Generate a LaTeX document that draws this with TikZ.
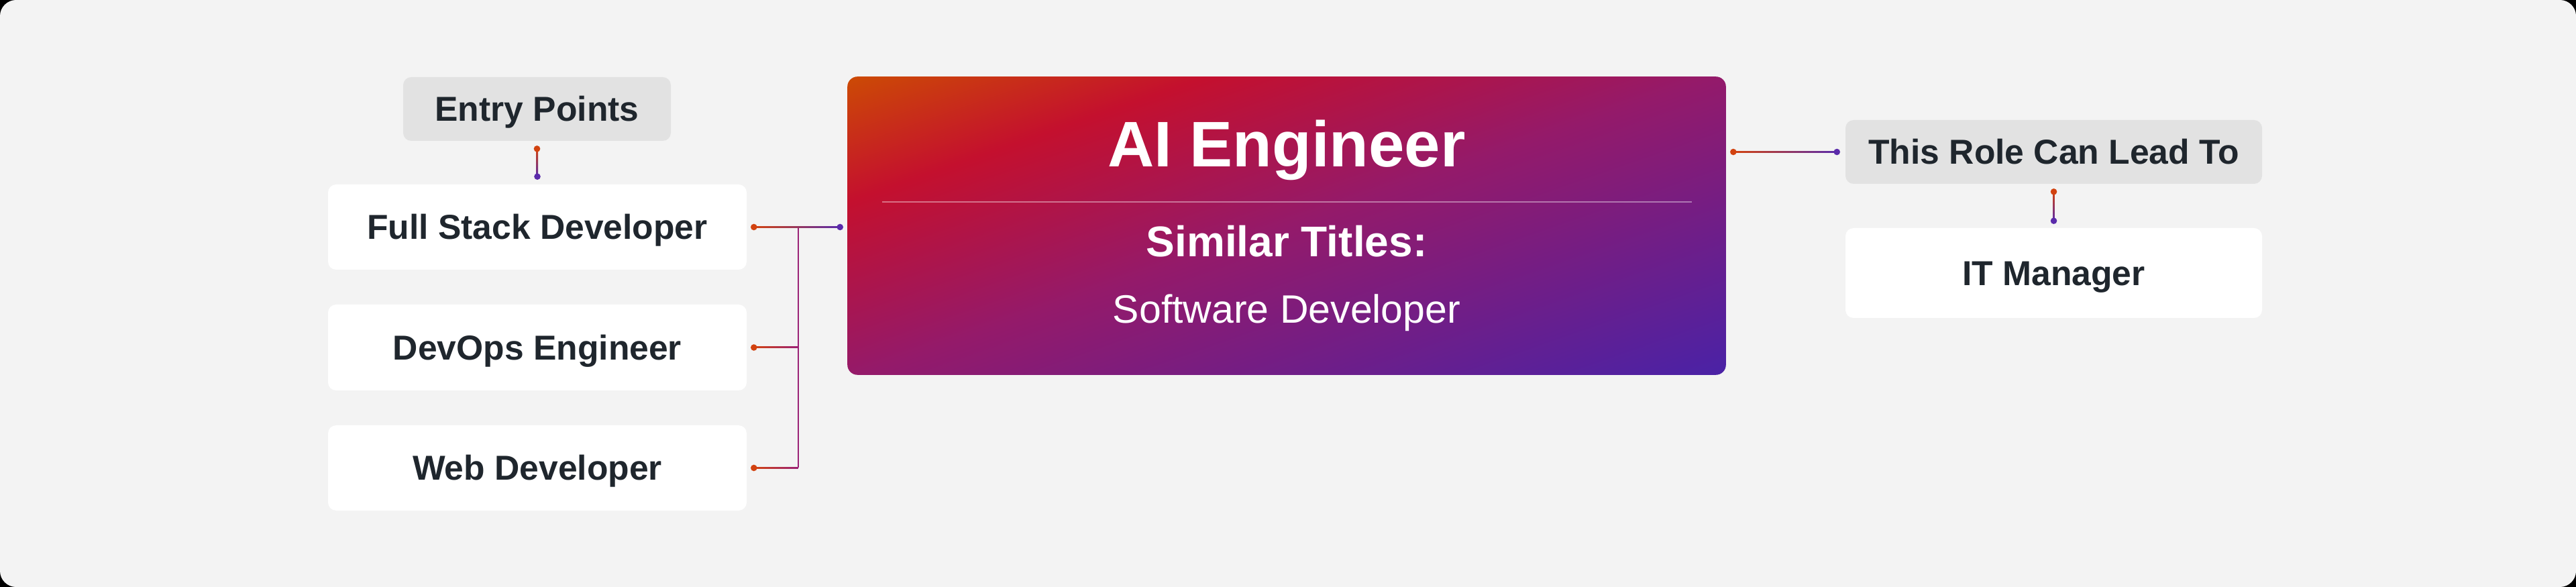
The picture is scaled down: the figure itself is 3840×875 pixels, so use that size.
\documentclass[tikz,border=0pt]{standalone}
\usepackage{fontspec}
\setmainfont{Liberation Sans}
\usetikzlibrary{calc}
\definecolor{bgc}{HTML}{F3F3F3}
\definecolor{grayc}{HTML}{E2E2E2}
\definecolor{txt}{HTML}{1F262D}
\definecolor{dotr}{HTML}{D2420F}
\definecolor{dotp}{HTML}{5A2BAA}
\definecolor{lmid}{HTML}{9A2176}
\definecolor{gOr}{HTML}{CC4A05}
\definecolor{gCr}{HTML}{C4102E}
\definecolor{gMg}{HTML}{941A6A}
\definecolor{gBl}{HTML}{4A22A6}
\pgfdeclarehorizontalshading{aigrad}{100bp}{color(0bp)=(gOr); color(25.9bp)=(gOr); color(35.8bp)=(gCr); color(50bp)=(gMg); color(74.1bp)=(gBl); color(100bp)=(gBl)}
\begin{document}
\begin{tikzpicture}[x=0.25pt,y=-0.25pt,
  box/.style={rectangle, rounded corners=3pt, fill=white, minimum width=156pt, minimum height=31.75pt, text=txt, font=\fontsize{12.9}{15}\selectfont\bfseries, text height=9.24pt, text depth=0pt, inner sep=0pt},
  graybox/.style={box, fill=grayc, minimum height=23.75pt},
  dotR/.style={fill=dotr},
  dotP/.style={fill=dotp},
  maintext/.style={anchor=base, text=white, inner sep=0pt}
]
\useasboundingbox (0,0) rectangle (3840,875);
\fill[black] (0,0) rectangle (3840,875);
\fill[bgc, rounded corners=6pt] (0,0) rectangle (3840,875);

% left column
\node[graybox, minimum width=99.75pt] (entry) at (800.5,162.5) {Entry Points};
\node[box] (fs) at (801,338.5) {Full Stack Developer};
\node[box, minimum height=32pt] (devops) at (801,518) {DevOps Engineer};
\node[box] (web) at (801,697.5) {Web Developer};

% main box with diagonal gradient
\node[rectangle, minimum width=327pt, minimum height=110.75pt, inner sep=0pt] (main) at (1918,336.5) {};
\begin{scope}
  \clip[rounded corners=3.75pt] (main.south west) rectangle (main.north east);
  \begin{scope}[transform canvas={rotate around={-70.8:(main.center)}}]
    \shade[shading=aigrad] (1478,-600) rectangle (2358,1273);
  \end{scope}
\end{scope}
\node[maintext, font=\fontsize{24}{28}\selectfont\bfseries] (t1) at (1918,249) {AI Engineer};
\node[maintext, font=\fontsize{16}{20}\selectfont\bfseries] (t2) at (1918,383) {Similar Titles:};
\node[maintext, font=\fontsize{14.75}{18}\selectfont] (t3) at (1918,482) {Software Developer};
\draw[white, opacity=0.4, line width=0.5pt] (1315,301) -- (2522,301);

% right column
\node[graybox, minimum width=155.25pt] (lead) at (3061.5,226.5) {This Role Can Lead To};
\node[box, minimum width=155.25pt, minimum height=33.5pt] (itm) at (3061.5,407) {IT Manager};

% connector coordinates
\coordinate (e1) at ($(entry.south)+(0,11)$);
\coordinate (e2) at ($(fs.north)+(0,-11)$);
\coordinate (f1) at ($(fs.east)+(10,0)$);
\coordinate (f2) at ($(f1 -| main.west)+(-11,0)$);
\coordinate (j) at ($(f1)!0.515!(f2)$);
\coordinate (d1) at ($(devops.east)+(10,0)$);
\coordinate (dj) at (d1 -| j);
\coordinate (w1) at ($(web.east)+(10,0)$);
\coordinate (wj) at (w1 -| j);
\coordinate (m1) at ($(lead.west -| main.east)+(11,0)$);
\coordinate (m2) at ($(lead.west)+(-12,0)$);
\coordinate (l1) at ($(lead.south)+(0,11)$);
\coordinate (l2) at ($(itm.north)+(0,-10)$);

% connector lines
\shade[top color=dotr, bottom color=dotp] ($(e1)+(-1,0)$) rectangle ($(e2)+(1,0)$);
\fill[lmid] ($(j)+(-1,0)$) rectangle ($(wj)+(1,0)$);
\shade[left color=dotr, right color=dotp] ($(f1)+(0,-1)$) rectangle ($(f2)+(0,1)$);
\shade[left color=dotr, right color=lmid] ($(d1)+(0,-1)$) rectangle ($(dj)+(0,1)$);
\shade[left color=dotr, right color=lmid] ($(w1)+(0,-1)$) rectangle ($(wj)+(0,1)$);
\shade[left color=dotr, right color=dotp] ($(m1)+(0,-1)$) rectangle ($(m2)+(0,1)$);
\shade[top color=dotr, bottom color=dotp] ($(l1)+(-1,0)$) rectangle ($(l2)+(1,0)$);

% dots
\fill[dotR] (e1) circle[radius=1.2pt];
\fill[dotP] (e2) circle[radius=1.2pt];
\fill[dotR] (f1) circle[radius=1.2pt];
\fill[dotP] (f2) circle[radius=1.2pt];
\fill[dotR] (d1) circle[radius=1.2pt];
\fill[dotR] (w1) circle[radius=1.2pt];
\fill[dotR] (m1) circle[radius=1.2pt];
\fill[dotP] (m2) circle[radius=1.2pt];
\fill[dotR] (l1) circle[radius=1.2pt];
\fill[dotP] (l2) circle[radius=1.2pt];
\end{tikzpicture}
\end{document}
